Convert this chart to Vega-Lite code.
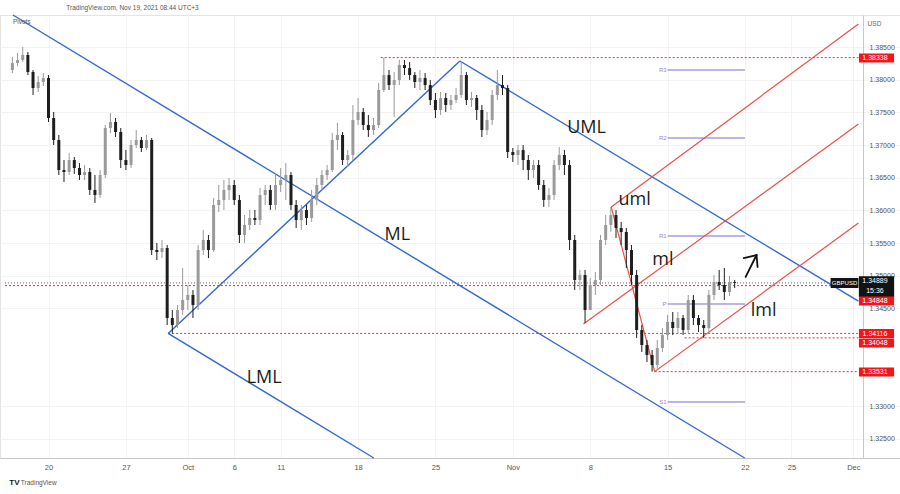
{
"$schema":"https://vega.github.io/schema/vega-lite/v6.json",
"width":900,"height":443,
"autosize":{"type":"none"},
"padding":{"left":0,"top":15,"right":0,"bottom":36},
"background":"white",
"config":{"view":{"stroke":"#e3e3e3"},"font":"Liberation Sans"},
"datasets":{
"candles":[
{"i":-7,"o":1.38148,"h":1.38347,"l":1.38102,"c":1.38255},
{"i":-6,"o":1.38255,"h":1.38408,"l":1.38209,"c":1.38301},
{"i":-5,"o":1.38301,"h":1.385,"l":1.3827,"c":1.38378},
{"i":-4,"o":1.38378,"h":1.38423,"l":1.38071,"c":1.38117},
{"i":-3,"o":1.38117,"h":1.38148,"l":1.37765,"c":1.37872},
{"i":-2,"o":1.37872,"h":1.38056,"l":1.37811,"c":1.37964},
{"i":-1,"o":1.37964,"h":1.38102,"l":1.37903,"c":1.38025},
{"i":0,"o":1.38025,"h":1.38071,"l":1.37352,"c":1.37413},
{"i":1,"o":1.37413,"h":1.37505,"l":1.37,"c":1.37076},
{"i":2,"o":1.37076,"h":1.37153,"l":1.36541,"c":1.36617},
{"i":3,"o":1.36617,"h":1.3677,"l":1.36434,"c":1.36587},
{"i":4,"o":1.36587,"h":1.36877,"l":1.36541,"c":1.3677},
{"i":5,"o":1.3677,"h":1.36816,"l":1.36556,"c":1.36648},
{"i":6,"o":1.36648,"h":1.36724,"l":1.36464,"c":1.36541},
{"i":7,"o":1.36541,"h":1.36694,"l":1.36464,"c":1.36587},
{"i":8,"o":1.36587,"h":1.36648,"l":1.36235,"c":1.36312},
{"i":9,"o":1.36312,"h":1.36541,"l":1.36113,"c":1.36235},
{"i":10,"o":1.36235,"h":1.36617,"l":1.36189,"c":1.36541},
{"i":11,"o":1.36541,"h":1.37306,"l":1.36495,"c":1.3726},
{"i":12,"o":1.3726,"h":1.3749,"l":1.37184,"c":1.37352},
{"i":13,"o":1.37352,"h":1.37413,"l":1.37122,"c":1.37199},
{"i":14,"o":1.37199,"h":1.3726,"l":1.36648,"c":1.3677},
{"i":15,"o":1.3677,"h":1.36923,"l":1.36617,"c":1.36694},
{"i":16,"o":1.36694,"h":1.37076,"l":1.36648,"c":1.37},
{"i":17,"o":1.37,"h":1.37229,"l":1.36954,"c":1.37076},
{"i":18,"o":1.37076,"h":1.37122,"l":1.36893,"c":1.36954},
{"i":19,"o":1.36954,"h":1.37153,"l":1.36923,"c":1.37076},
{"i":20,"o":1.37076,"h":1.37107,"l":1.35316,"c":1.35393},
{"i":21,"o":1.35393,"h":1.355,"l":1.3524,"c":1.35362},
{"i":22,"o":1.35362,"h":1.35546,"l":1.3527,"c":1.35423},
{"i":23,"o":1.35423,"h":1.35469,"l":1.34244,"c":1.34352},
{"i":24,"o":1.34352,"h":1.34474,"l":1.34116,"c":1.34244},
{"i":25,"o":1.34244,"h":1.34551,"l":1.34199,"c":1.34474},
{"i":26,"o":1.34474,"h":1.35117,"l":1.34398,"c":1.34627},
{"i":27,"o":1.34627,"h":1.34857,"l":1.34474,"c":1.34704},
{"i":28,"o":1.34704,"h":1.34781,"l":1.34352,"c":1.34551},
{"i":29,"o":1.34551,"h":1.35469,"l":1.34474,"c":1.35393},
{"i":30,"o":1.35393,"h":1.357,"l":1.35316,"c":1.35546},
{"i":31,"o":1.35546,"h":1.35623,"l":1.3527,"c":1.35393},
{"i":32,"o":1.35393,"h":1.36189,"l":1.35362,"c":1.36082},
{"i":33,"o":1.36082,"h":1.36388,"l":1.35975,"c":1.36159},
{"i":34,"o":1.36159,"h":1.36464,"l":1.36006,"c":1.36312},
{"i":35,"o":1.36312,"h":1.36495,"l":1.36159,"c":1.36388},
{"i":36,"o":1.36388,"h":1.36464,"l":1.36082,"c":1.36159},
{"i":37,"o":1.36159,"h":1.36235,"l":1.355,"c":1.35623},
{"i":38,"o":1.35623,"h":1.35929,"l":1.355,"c":1.35776},
{"i":39,"o":1.35776,"h":1.36006,"l":1.357,"c":1.35883},
{"i":40,"o":1.35883,"h":1.36006,"l":1.35776,"c":1.35852},
{"i":41,"o":1.35852,"h":1.36342,"l":1.35776,"c":1.36235},
{"i":42,"o":1.36235,"h":1.36388,"l":1.36082,"c":1.36312},
{"i":43,"o":1.36312,"h":1.36388,"l":1.36006,"c":1.36082},
{"i":44,"o":1.36082,"h":1.36571,"l":1.36006,"c":1.36388},
{"i":45,"o":1.36388,"h":1.36648,"l":1.36281,"c":1.36464},
{"i":46,"o":1.36464,"h":1.36724,"l":1.36159,"c":1.36541},
{"i":47,"o":1.36541,"h":1.36587,"l":1.36006,"c":1.36082},
{"i":48,"o":1.36082,"h":1.36159,"l":1.3573,"c":1.35852},
{"i":49,"o":1.35852,"h":1.36082,"l":1.357,"c":1.36006},
{"i":50,"o":1.36006,"h":1.36082,"l":1.35776,"c":1.35883},
{"i":51,"o":1.35883,"h":1.36312,"l":1.35822,"c":1.36159},
{"i":52,"o":1.36159,"h":1.36495,"l":1.36082,"c":1.36388},
{"i":53,"o":1.36388,"h":1.36617,"l":1.36312,"c":1.36541},
{"i":54,"o":1.36541,"h":1.36694,"l":1.36464,"c":1.36617},
{"i":55,"o":1.36617,"h":1.37184,"l":1.36587,"c":1.37076},
{"i":56,"o":1.37076,"h":1.37336,"l":1.36923,"c":1.37153},
{"i":57,"o":1.37153,"h":1.37199,"l":1.36694,"c":1.3677},
{"i":58,"o":1.3677,"h":1.36923,"l":1.36663,"c":1.36847},
{"i":59,"o":1.36847,"h":1.37612,"l":1.3677,"c":1.37382},
{"i":60,"o":1.37382,"h":1.37719,"l":1.37306,"c":1.37505},
{"i":61,"o":1.37505,"h":1.37566,"l":1.37229,"c":1.37306},
{"i":62,"o":1.37306,"h":1.37459,"l":1.37122,"c":1.37229},
{"i":63,"o":1.37229,"h":1.37413,"l":1.37153,"c":1.37306},
{"i":64,"o":1.37306,"h":1.37949,"l":1.3726,"c":1.37842},
{"i":65,"o":1.37842,"h":1.38338,"l":1.37811,"c":1.38071},
{"i":66,"o":1.38071,"h":1.38148,"l":1.37842,"c":1.37918},
{"i":67,"o":1.37918,"h":1.38117,"l":1.37428,"c":1.37994},
{"i":68,"o":1.37994,"h":1.38301,"l":1.37918,"c":1.38224},
{"i":69,"o":1.38224,"h":1.38301,"l":1.38071,"c":1.38178},
{"i":70,"o":1.38178,"h":1.3827,"l":1.37994,"c":1.38071},
{"i":71,"o":1.38071,"h":1.38117,"l":1.37872,"c":1.37964},
{"i":72,"o":1.37964,"h":1.38148,"l":1.37842,"c":1.38025},
{"i":73,"o":1.38025,"h":1.38102,"l":1.37842,"c":1.37918},
{"i":74,"o":1.37918,"h":1.37994,"l":1.37612,"c":1.37689},
{"i":75,"o":1.37689,"h":1.37796,"l":1.37413,"c":1.37536},
{"i":76,"o":1.37536,"h":1.37811,"l":1.37459,"c":1.37719},
{"i":77,"o":1.37719,"h":1.37796,"l":1.37505,"c":1.37612},
{"i":78,"o":1.37612,"h":1.37765,"l":1.37536,"c":1.37689},
{"i":79,"o":1.37689,"h":1.37872,"l":1.37643,"c":1.37765},
{"i":80,"o":1.37765,"h":1.38286,"l":1.37719,"c":1.38071},
{"i":81,"o":1.38071,"h":1.38117,"l":1.37612,"c":1.37689},
{"i":82,"o":1.37689,"h":1.37811,"l":1.37581,"c":1.37719},
{"i":83,"o":1.37719,"h":1.37765,"l":1.37382,"c":1.37536},
{"i":84,"o":1.37536,"h":1.37612,"l":1.37122,"c":1.37229},
{"i":85,"o":1.37229,"h":1.37505,"l":1.37153,"c":1.37382},
{"i":86,"o":1.37382,"h":1.37842,"l":1.37306,"c":1.37765},
{"i":87,"o":1.37765,"h":1.38148,"l":1.37689,"c":1.37918},
{"i":88,"o":1.37918,"h":1.38071,"l":1.37765,"c":1.37872},
{"i":89,"o":1.37872,"h":1.37918,"l":1.36801,"c":1.36893},
{"i":90,"o":1.36893,"h":1.36954,"l":1.3674,"c":1.36847},
{"i":91,"o":1.36847,"h":1.37,"l":1.36694,"c":1.36923},
{"i":92,"o":1.36923,"h":1.37,"l":1.36617,"c":1.3677},
{"i":93,"o":1.3677,"h":1.36847,"l":1.36464,"c":1.36617},
{"i":94,"o":1.36617,"h":1.3677,"l":1.36495,"c":1.36694},
{"i":95,"o":1.36694,"h":1.3677,"l":1.36312,"c":1.36388},
{"i":96,"o":1.36388,"h":1.36464,"l":1.36052,"c":1.36159},
{"i":97,"o":1.36159,"h":1.36342,"l":1.36052,"c":1.36235},
{"i":98,"o":1.36235,"h":1.3677,"l":1.36159,"c":1.36694},
{"i":99,"o":1.36694,"h":1.36969,"l":1.36617,"c":1.36847},
{"i":100,"o":1.36847,"h":1.36923,"l":1.36541,"c":1.36694},
{"i":101,"o":1.36694,"h":1.3677,"l":1.35393,"c":1.35546},
{"i":102,"o":1.35546,"h":1.35623,"l":1.34781,"c":1.34934},
{"i":103,"o":1.34934,"h":1.35087,"l":1.34781,"c":1.3501},
{"i":104,"o":1.3501,"h":1.35087,"l":1.34275,"c":1.34474},
{"i":105,"o":1.34474,"h":1.34964,"l":1.34627,"c":1.34857},
{"i":106,"o":1.34857,"h":1.35056,"l":1.34704,"c":1.34934},
{"i":107,"o":1.34934,"h":1.35623,"l":1.34857,"c":1.35546},
{"i":108,"o":1.35546,"h":1.35929,"l":1.35469,"c":1.35776},
{"i":109,"o":1.35776,"h":1.36052,"l":1.35669,"c":1.35929},
{"i":110,"o":1.35929,"h":1.36006,"l":1.35577,"c":1.3573},
{"i":111,"o":1.3573,"h":1.35822,"l":1.35469,"c":1.35669},
{"i":112,"o":1.35669,"h":1.3573,"l":1.35117,"c":1.35393},
{"i":113,"o":1.35393,"h":1.35469,"l":1.34857,"c":1.3501},
{"i":114,"o":1.3501,"h":1.35087,"l":1.34045,"c":1.34168},
{"i":115,"o":1.34168,"h":1.34244,"l":1.33832,"c":1.33939},
{"i":116,"o":1.33939,"h":1.34015,"l":1.33678,"c":1.33786},
{"i":117,"o":1.33786,"h":1.33862,"l":1.33531,"c":1.33632},
{"i":118,"o":1.33632,"h":1.34015,"l":1.33556,"c":1.33893},
{"i":119,"o":1.33893,"h":1.34199,"l":1.33832,"c":1.34091},
{"i":120,"o":1.34091,"h":1.34398,"l":1.34015,"c":1.34291},
{"i":121,"o":1.34291,"h":1.34444,"l":1.34091,"c":1.34199},
{"i":122,"o":1.34199,"h":1.34444,"l":1.34122,"c":1.34352},
{"i":123,"o":1.34352,"h":1.34398,"l":1.34091,"c":1.34168},
{"i":124,"o":1.34168,"h":1.34704,"l":1.34122,"c":1.34627},
{"i":125,"o":1.34627,"h":1.34704,"l":1.34244,"c":1.34352},
{"i":126,"o":1.34352,"h":1.34398,"l":1.34137,"c":1.34244},
{"i":127,"o":1.34244,"h":1.34321,"l":1.34048,"c":1.34199},
{"i":128,"o":1.34199,"h":1.34781,"l":1.34137,"c":1.34704},
{"i":129,"o":1.34704,"h":1.3501,"l":1.34627,"c":1.34903},
{"i":130,"o":1.34903,"h":1.35087,"l":1.34781,"c":1.34857},
{"i":131,"o":1.34857,"h":1.35117,"l":1.34627,"c":1.3475},
{"i":132,"o":1.3475,"h":1.34995,"l":1.34689,"c":1.34903},
{"i":133,"o":1.34903,"h":1.34934,"l":1.34811,"c":1.34889}
],
"blue":[
{"name":"ML","a":-6.9,"pa":1.3899,"b":134.94,"pb":1.32209},
{"name":"UML","a":79.74,"pa":1.38286,"b":156.99,"pb":1.3461},
{"name":"BC","a":23.19,"pa":1.34116,"b":79.74,"pb":1.38286},
{"name":"LML","a":23.19,"pa":1.34116,"b":63.06,"pb":1.32209}
],
"red":[
{"name":"bc","a":109.07,"pa":1.36052,"b":117.5,"pb":1.33531},
{"name":"uml","a":109.07,"pa":1.36052,"b":156.99,"pb":1.38852},
{"name":"ml","a":103.7,"pa":1.3426,"b":156.99,"pb":1.37321},
{"name":"lml","a":117.5,"pa":1.33531,"b":156.99,"pb":1.35806}
],
"arrow":[
{"a":135.13,"pa":1.34981,"b":137.24,"pb":1.35316},
{"a":137.24,"pa":1.35316,"b":134.75,"pb":1.3527},
{"a":137.24,"pa":1.35316,"b":137.44,"pb":1.35132}
],
"levels":[
{"p":1.38338,"a":64.4,"b":156.99},
{"p":1.34848,"a":-8.43,"b":156.99},
{"p":1.34116,"a":23.19,"b":156.99},
{"p":1.34048,"a":123.3,"b":156.99},
{"p":1.33531,"a":117.5,"b":156.99}
],
"last":[{"p":1.34889,"a":-8.43,"b":156.99}],
"pivots":[
{"t":"R3","p":1.38148},
{"t":"R2","p":1.37107},
{"t":"R1","p":1.35608},
{"t":"P","p":1.34566},
{"t":"S1","p":1.33066}
],
"notes":[
{"t":"UML","i":104.3,"p":1.3726},
{"t":"ML","i":67.6,"p":1.35623},
{"t":"LML","i":41.8,"p":1.33433},
{"t":"uml","i":113.6,"p":1.36159},
{"t":"ml","i":119.1,"p":1.3524},
{"t":"lml","i":138.6,"p":1.34459}
],
"boxes":[
{"t":"1.38338","at":1.38332,"lo":1.38263,"hi":1.384,"kind":"level"},
{"t":"1.34889","at":1.34911,"lo":1.34673,"hi":1.34987,"kind":"last"},
{"t":"15:36","at":1.34758,"lo":1.34673,"hi":1.34987,"kind":"last"},
{"t":"1.34848","at":1.34612,"lo":1.34543,"hi":1.34681,"kind":"level"},
{"t":"1.34116","at":1.34114,"lo":1.34045,"hi":1.34183,"kind":"level"},
{"t":"1.34048","at":1.33969,"lo":1.339,"hi":1.34038,"kind":"level"},
{"t":"1.33531","at":1.33525,"lo":1.33456,"hi":1.33594,"kind":"level"}
]
},
"layer":[
{"data":{"name":"levels"},"mark":{"type":"rule","color":"#e8323a","strokeWidth":1,"strokeDash":[2,2]},
 "encoding":{"x":{"field":"a","type":"quantitative","scale":{"domain":[-8.434,164.08],"nice":false,"zero":false},"axis":{"values":[0,15,27,36,45,60,75,90,105,120,135,144,156],"labelExpr":"datum.value==0?'20':datum.value==15?'27':datum.value==27?'Oct':datum.value==36?'6':datum.value==45?'11':datum.value==60?'18':datum.value==75?'25':datum.value==90?'Nov':datum.value==105?'8':datum.value==120?'15':datum.value==135?'22':datum.value==144?'25':'Dec'","grid":true,"gridColor":"#f3f3f3","ticks":false,"domainColor":"#c8c8c8","labelColor":"#555","labelFontSize":7.5,"labelPadding":5,"title":null,"labelFont":"Liberation Sans"}},
  "x2":{"field":"b"},
  "y":{"field":"p","type":"quantitative","scale":{"domain":[1.32209,1.3899],"nice":false,"zero":false},"axis":{"orient":"right","offset":-37,"values":[1.325,1.33,1.345,1.35,1.355,1.36,1.365,1.37,1.375,1.38,1.385],"format":".5f","grid":true,"gridColor":"#f3f3f3","ticks":false,"domainColor":"#c8c8c8","labelColor":"#555","labelFontSize":7,"labelPadding":6,"labelAlign":"left","title":null,"labelFont":"Liberation Sans"}}}},
{"data":{"name":"last"},"mark":{"type":"rule","color":"#666","strokeWidth":1,"strokeDash":[1,2]},
 "encoding":{"x":{"field":"a","type":"quantitative","scale":{"domain":[-8.434,164.08],"nice":false,"zero":false}},"x2":{"field":"b"},"y":{"field":"p","type":"quantitative","scale":{"domain":[1.32209,1.3899],"nice":false,"zero":false}}}},
{"data":{"name":"pivots"},"mark":{"type":"rule","color":"#a99bdc","strokeWidth":1.5},
 "encoding":{"x":{"datum":120,"type":"quantitative","scale":{"domain":[-8.434,164.08],"nice":false,"zero":false}},"x2":{"datum":135},"y":{"field":"p","type":"quantitative","scale":{"domain":[1.32209,1.3899],"nice":false,"zero":false}}}},
{"data":{"name":"pivots"},"mark":{"type":"text","color":"#9487cf","fontSize":6,"align":"right","baseline":"middle","dx":-1},
 "encoding":{"x":{"datum":120,"type":"quantitative","scale":{"domain":[-8.434,164.08],"nice":false,"zero":false}},"y":{"field":"p","type":"quantitative","scale":{"domain":[1.32209,1.3899],"nice":false,"zero":false}},"text":{"field":"t"}}},
{"data":{"name":"blue"},"mark":{"type":"rule","color":"#3566d6","strokeWidth":1.4},
 "encoding":{"x":{"field":"a","type":"quantitative","scale":{"domain":[-8.434,164.08],"nice":false,"zero":false}},"x2":{"field":"b"},"y":{"field":"pa","type":"quantitative","scale":{"domain":[1.32209,1.3899],"nice":false,"zero":false}},"y2":{"field":"pb"}}},
{"data":{"name":"red"},"mark":{"type":"rule","color":"#ec4f48","strokeWidth":1.2},
 "encoding":{"x":{"field":"a","type":"quantitative","scale":{"domain":[-8.434,164.08],"nice":false,"zero":false}},"x2":{"field":"b"},"y":{"field":"pa","type":"quantitative","scale":{"domain":[1.32209,1.3899],"nice":false,"zero":false}},"y2":{"field":"pb"}}},
{"data":{"name":"arrow"},"mark":{"type":"rule","color":"#111","strokeWidth":1.8,"strokeCap":"round"},
 "encoding":{"x":{"field":"a","type":"quantitative","scale":{"domain":[-8.434,164.08],"nice":false,"zero":false}},"x2":{"field":"b"},"y":{"field":"pa","type":"quantitative","scale":{"domain":[1.32209,1.3899],"nice":false,"zero":false}},"y2":{"field":"pb"}}},
{"data":{"name":"candles"},"mark":{"type":"rule","strokeWidth":1},
 "encoding":{"x":{"field":"i","type":"quantitative","scale":{"domain":[-8.434,164.08],"nice":false,"zero":false}},"y":{"field":"l","type":"quantitative","scale":{"domain":[1.32209,1.3899],"nice":false,"zero":false}},"y2":{"field":"h"},
  "color":{"condition":{"test":"datum.c>=datum.o","value":"#9a9a9a"},"value":"#1e1e1e"}}},
{"data":{"name":"candles"},"mark":{"type":"bar","size":3},
 "encoding":{"x":{"field":"i","type":"quantitative","scale":{"domain":[-8.434,164.08],"nice":false,"zero":false}},"y":{"field":"o","type":"quantitative","scale":{"domain":[1.32209,1.3899],"nice":false,"zero":false}},"y2":{"field":"c"},
  "color":{"condition":{"test":"datum.c>=datum.o","value":"#9a9a9a"},"value":"#1e1e1e"}}},
{"data":{"name":"notes"},"mark":{"type":"text","font":"Open Sans","fontSize":18,"color":"#1a1a1a","baseline":"middle","align":"center"},
 "encoding":{"x":{"field":"i","type":"quantitative","scale":{"domain":[-8.434,164.08],"nice":false,"zero":false}},"y":{"field":"p","type":"quantitative","scale":{"domain":[1.32209,1.3899],"nice":false,"zero":false}},"text":{"field":"t"}}},
{"data":{"values":[{"t":"TradingView.com, Nov 19, 2021 08:44 UTC+3","i":3.45,"p":1.39097},{"t":"Pivots","i":-6.9,"p":1.38882},{"t":"TradingView","i":-5.37,"p":1.31826}]},"mark":{"type":"text","fontSize":6.5,"color":"#555","baseline":"middle","align":"left"},
 "encoding":{"x":{"field":"i","type":"quantitative","scale":{"domain":[-8.434,164.08],"nice":false,"zero":false}},"y":{"field":"p","type":"quantitative","scale":{"domain":[1.32209,1.3899],"nice":false,"zero":false}},"text":{"field":"t"}}},
{"data":{"values":[{"t":"TV","i":-7.6,"p":1.31826}]},"mark":{"type":"text","fontSize":8,"fontWeight":"bold","color":"#131722","baseline":"middle","align":"left"},
 "encoding":{"x":{"field":"i","type":"quantitative","scale":{"domain":[-8.434,164.08],"nice":false,"zero":false}},"y":{"field":"p","type":"quantitative","scale":{"domain":[1.32209,1.3899],"nice":false,"zero":false}},"text":{"field":"t"}}},
{"data":{"values":[{"t":"USD","i":160.1,"p":1.38852}]},"mark":{"type":"text","fontSize":6.5,"color":"#666","baseline":"middle","align":"center"},
 "encoding":{"x":{"field":"i","type":"quantitative","scale":{"domain":[-8.434,164.08],"nice":false,"zero":false}},"y":{"field":"p","type":"quantitative","scale":{"domain":[1.32209,1.3899],"nice":false,"zero":false}},"text":{"field":"t"}}},
{"data":{"name":"boxes"},"mark":{"type":"rect"},
 "encoding":{"x":{"datum":157.09,"type":"quantitative","scale":{"domain":[-8.434,164.08],"nice":false,"zero":false}},"x2":{"datum":163.9},"y":{"field":"lo","type":"quantitative","scale":{"domain":[1.32209,1.3899],"nice":false,"zero":false}},"y2":{"field":"hi"},
  "color":{"field":"kind","type":"nominal","scale":{"domain":["level","last"],"range":["#f2161a","#131313"]},"legend":null}}},
{"data":{"name":"boxes"},"mark":{"type":"text","fontSize":7,"color":"white","baseline":"middle","align":"center"},
 "encoding":{"x":{"datum":160.2,"type":"quantitative","scale":{"domain":[-8.434,164.08],"nice":false,"zero":false}},"y":{"field":"at","type":"quantitative","scale":{"domain":[1.32209,1.3899],"nice":false,"zero":false}},"text":{"field":"t"}}},
{"data":{"values":[{"t":"GBPUSD","lo":1.34811,"hi":1.34964,"at":1.34888}]},"mark":{"type":"rect","color":"#131313"},
 "encoding":{"x":{"datum":151.6,"type":"quantitative","scale":{"domain":[-8.434,164.08],"nice":false,"zero":false}},"x2":{"datum":156.99},"y":{"field":"lo","type":"quantitative","scale":{"domain":[1.32209,1.3899],"nice":false,"zero":false}},"y2":{"field":"hi"}}},
{"data":{"values":[{"t":"GBPUSD","at":1.34888}]},"mark":{"type":"text","fontSize":6,"color":"white","baseline":"middle","align":"center"},
 "encoding":{"x":{"datum":154.3,"type":"quantitative","scale":{"domain":[-8.434,164.08],"nice":false,"zero":false}},"y":{"field":"at","type":"quantitative","scale":{"domain":[1.32209,1.3899],"nice":false,"zero":false}},"text":{"field":"t"}}}
]
}
